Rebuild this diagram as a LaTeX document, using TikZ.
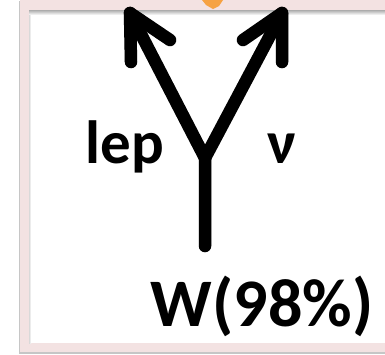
\documentclass[tikz,border=0pt]{standalone}
\usepackage{fontspec}
\setmainfont{Carlito}
\definecolor{framepink}{HTML}{F3E2E2}
\definecolor{tiporange}{HTML}{F6A243}
\tikzset{
  lbl/.style={font=\fontsize{61}{70}\selectfont\bfseries, inner sep=0pt, anchor=base},
  biglbl/.style={font=\fontsize{68}{76}\selectfont\bfseries, inner sep=0pt, anchor=base},
  arrowline/.style={line width=12.5pt, line cap=round, line join=round, black},
  shadowline/.style={line width=12.5pt, line cap=round, line join=round, black, opacity=0.18}
}
\begin{document}
\begin{tikzpicture}[x=1pt,y=-1pt]
\useasboundingbox (0,0) rectangle (385,354);
% frame
\fill[gray!45] (19,1) rectangle (400,354);
\fill[framepink] (20,0) rectangle (400,352);
\fill[white] (29,10) rectangle (400,343);
\shade[top color=gray!65, bottom color=white] (29,10) rectangle (400,15);
\shade[left color=gray!30, right color=white] (29,15) rectangle (31,343);
% orange piece
\fill[tiporange] (202,0) -- (223,0) -- (219,6) -- (213,9) -- (206,5) -- cycle;
% coordinates
\coordinate (v) at (205,158);
\coordinate (b) at (205,246);
\coordinate (tl) at (130,13);
\coordinate (tr) at (282,13);
\coordinate (tla) at (131,62);
\coordinate (tlb) at (170,40);
\coordinate (tra) at (282,62);
\coordinate (trb) at (243,40);
% shadows
\begin{scope}[shift={(1.5,2)}]
\draw[shadowline] (b) -- (v) -- (tl);
\draw[shadowline] (v) -- (tr);
\draw[shadowline] (tla) -- (tl) -- (tlb);
\draw[shadowline] (tra) -- (tr) -- (trb);
\end{scope}
% arrows
\draw[arrowline] (b) -- (v) -- (tl);
\draw[arrowline] (v) -- (tr);
\draw[arrowline] (tla) -- (tl) -- (tlb);
\draw[arrowline] (tra) -- (tr) -- (trb);
% labels
\node[lbl] (lep) at (125,163) {lep};
\node[lbl] (nu) at (282,163) {ν};
\node[biglbl] (w) at (262,326) {W(98\%)};
\end{tikzpicture}
\end{document}
